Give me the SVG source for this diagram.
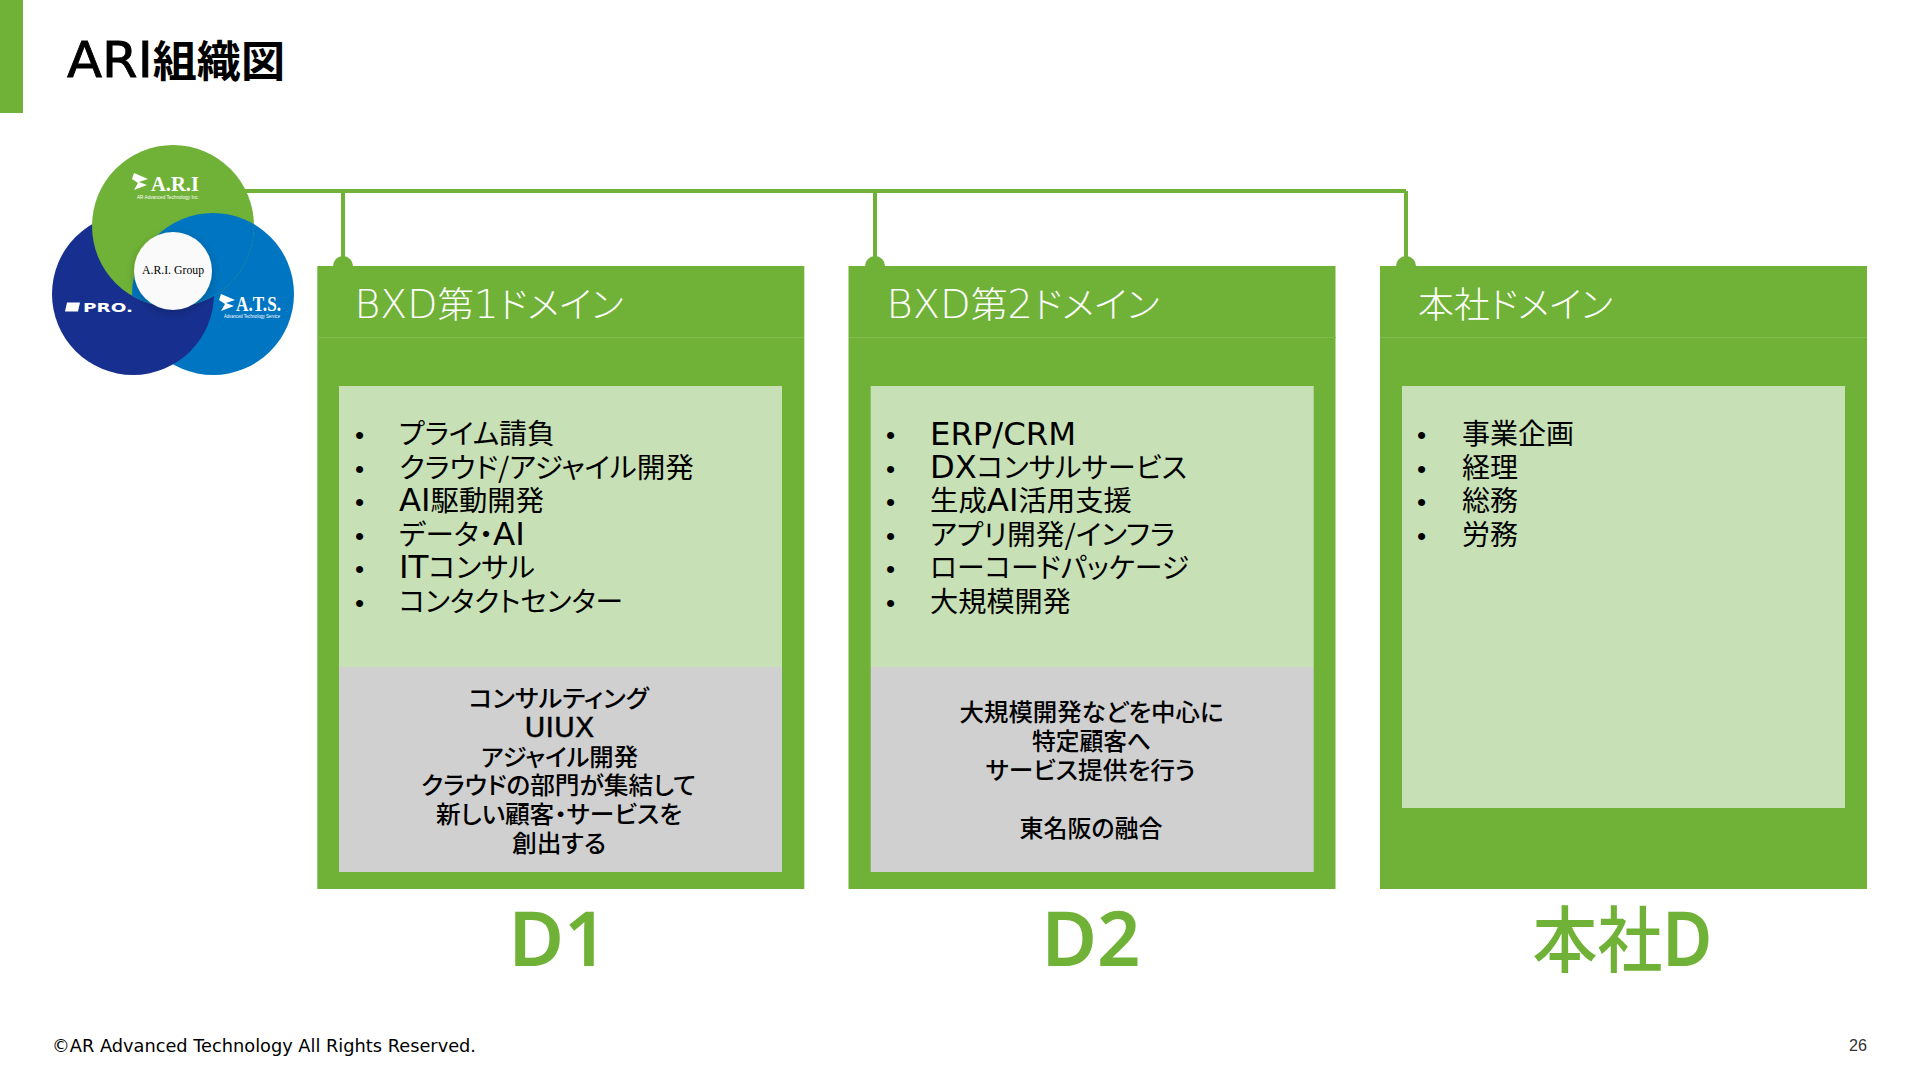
<svg xmlns="http://www.w3.org/2000/svg" width="1920" height="1080" viewBox="0 0 1920 1080">
<style>
text{font-family:"Noto Sans CJK JP",sans-serif;fill:#000;font-feature-settings:"palt"}
.l{font-family:"DejaVu Sans","Noto Sans CJK JP",sans-serif;font-size:1.14em}
.card{fill:#70B237}
.sep{stroke:#7FBB4D;stroke-width:1;fill:none}
.light{fill:#C8E0B6}
.gray{fill:#D0D0D0}
.head{font-size:36px;fill:#fff;font-weight:300}
.head .l{font-weight:200;font-size:39px}
.li{font-size:28px;font-weight:400}
.bu{font-size:26px;font-family:"Liberation Sans",sans-serif}
.note{font-size:24px;text-anchor:middle;font-weight:500}
.big{font-size:72px;fill:#70B237;text-anchor:middle;font-weight:500}
.big .b{font-family:"Noto Sans",sans-serif;font-size:76px;font-weight:600}
.conn{stroke:#70B237;stroke-width:4;fill:none}
.dot{fill:#70B237}
.wl{fill:#fff;font-family:"Liberation Serif",serif;font-weight:700}
.ws{fill:#fff;font-family:"Liberation Sans",sans-serif;font-size:5px}
</style>
<defs>
<clipPath id="cg"><circle cx="173" cy="226" r="81"/></clipPath>
<filter id="sh" x="-30%" y="-30%" width="160%" height="160%"><feDropShadow dx="0" dy="3" stdDeviation="5" flood-color="#000" flood-opacity="0.22"/></filter>
</defs>
<rect width="1920" height="1080" fill="#fff"/>
<rect x="0" y="0" width="23" height="113" fill="#70B237"/>
<text x="67" y="77" font-size="43" font-weight="700" textLength="218" lengthAdjust="spacingAndGlyphs"><tspan class="l" style="font-size:50px;font-weight:400;stroke:#000;stroke-width:0.8px">ARI</tspan>組織図</text>
<g id="connectors">
<path class="conn" d="M230 191H1406M343 191V266M875 191V266M1406 191V266"/>
<circle class="dot" cx="343" cy="266" r="10"/>
<circle class="dot" cx="875" cy="266" r="10"/>
<circle class="dot" cx="1406" cy="266" r="10"/>
</g>
<g id="logo">
<circle cx="213" cy="294" r="81" fill="#0075C1"/>
<circle cx="133" cy="294" r="81" fill="#17308F"/>
<circle cx="173" cy="226" r="81" fill="#70B237"/>
<circle cx="213" cy="294" r="81" fill="#0075C1" clip-path="url(#cg)"/>
<circle cx="173" cy="271" r="39" fill="#FAFAFA" filter="url(#sh)"/>
<text x="142" y="274" font-size="12" textLength="62" lengthAdjust="spacingAndGlyphs" style="font-family:'Liberation Serif',serif">A.R.I. Group</text>
<path d="M134 173l14 6-9 3 8 3-13 5 4-7-6-4z" fill="#fff"/>
<text class="wl" x="151" y="191" font-size="21" textLength="48" lengthAdjust="spacingAndGlyphs">A.R.I</text>
<text class="ws" x="137" y="199" textLength="62" lengthAdjust="spacingAndGlyphs">AR Advanced Technology Inc.</text>
<path d="M67 302.500h13l-2 9h-13z" fill="#fff"/>
<text x="83" y="311.500" font-size="13" font-weight="700" textLength="50" lengthAdjust="spacingAndGlyphs" style="fill:#fff;font-family:'DejaVu Sans',sans-serif">PRO.</text>
<path d="M221 294l14 6-9 3 8 3-13 5 4-7-6-4z" fill="#fff"/>
<text class="wl" x="236" y="311" font-size="20" textLength="45" lengthAdjust="spacingAndGlyphs">A.T.S.</text>
<text class="ws" x="224" y="318" textLength="56" lengthAdjust="spacingAndGlyphs">Advanced Technology Service</text>
</g>
<g id="card-d1">
<rect class="card" x="317.300" y="266" width="487" height="623"/>
<path class="sep" d="M317 337.500H804"/>
<text class="head" x="354.500" y="318" textLength="269" lengthAdjust="spacingAndGlyphs"><tspan class="l">BXD</tspan>第<tspan class="l">1</tspan>ドメイン</text>
<rect class="light" x="339" y="386" width="443" height="281"/>
<rect class="gray" x="339" y="667" width="443" height="205"/>
<text class="bu" x="355" y="444">•</text><text class="li" x="399" y="444" textLength="156" lengthAdjust="spacingAndGlyphs">プライム請負</text>
<text class="bu" x="355" y="478">•</text><text class="li" x="399" y="478" textLength="295" lengthAdjust="spacingAndGlyphs">クラウド/アジャイル開発</text>
<text class="bu" x="355" y="511">•</text><text class="li" x="399" y="511" textLength="145" lengthAdjust="spacingAndGlyphs"><tspan class="l">AI</tspan>駆動開発</text>
<text class="bu" x="355" y="545">•</text><text class="li" x="399" y="545" textLength="126" lengthAdjust="spacingAndGlyphs">データ・<tspan class="l">AI</tspan></text>
<text class="bu" x="355" y="578">•</text><text class="li" x="399" y="578" textLength="136" lengthAdjust="spacingAndGlyphs"><tspan class="l">IT</tspan>コンサル</text>
<text class="bu" x="355" y="612">•</text><text class="li" x="399" y="612" textLength="224" lengthAdjust="spacingAndGlyphs">コンタクトセンター</text>
<text class="note" x="558.500" y="707" textLength="180" lengthAdjust="spacingAndGlyphs">コンサルティング</text>
<text class="note" x="559.500" y="737" textLength="70" lengthAdjust="spacingAndGlyphs"><tspan class="l" style="font-weight:400;stroke:#000;stroke-width:0.4px">UIUX</tspan></text>
<text class="note" x="559.500" y="766" textLength="157" lengthAdjust="spacingAndGlyphs">アジャイル開発</text>
<text class="note" x="558.500" y="794" textLength="275" lengthAdjust="spacingAndGlyphs">クラウドの部門が集結して</text>
<text class="note" x="559" y="823" textLength="246" lengthAdjust="spacingAndGlyphs">新しい顧客・サービスを</text>
<text class="note" x="559" y="852" textLength="94" lengthAdjust="spacingAndGlyphs">創出する</text>
<text class="big" x="558" y="966"><tspan class="b">D1</tspan></text>
</g>
<g id="card-d2">
<rect class="card" x="848.500" y="266" width="487" height="623"/>
<path class="sep" d="M849 337.500H1336"/>
<text class="head" x="886.500" y="318" textLength="273" lengthAdjust="spacingAndGlyphs"><tspan class="l">BXD</tspan>第<tspan class="l">2</tspan>ドメイン</text>
<rect class="light" x="870.700" y="386" width="443" height="281"/>
<rect class="gray" x="870.700" y="667" width="443" height="205"/>
<text class="bu" x="886" y="444">•</text><text class="li" x="930" y="444.500" textLength="146" lengthAdjust="spacingAndGlyphs"><tspan class="l">ERP/CRM</tspan></text>
<text class="bu" x="886" y="478">•</text><text class="li" x="930" y="478" textLength="257" lengthAdjust="spacingAndGlyphs"><tspan class="l">DX</tspan>コンサルサービス</text>
<text class="bu" x="886" y="511">•</text><text class="li" x="930" y="511" textLength="202" lengthAdjust="spacingAndGlyphs">生成<tspan class="l">AI</tspan>活用支援</text>
<text class="bu" x="886" y="545">•</text><text class="li" x="930" y="545" textLength="245" lengthAdjust="spacingAndGlyphs">アプリ開発/インフラ</text>
<text class="bu" x="886" y="578">•</text><text class="li" x="930" y="578" textLength="259" lengthAdjust="spacingAndGlyphs">ローコードパッケージ</text>
<text class="bu" x="886" y="612">•</text><text class="li" x="930" y="612" textLength="141" lengthAdjust="spacingAndGlyphs">大規模開発</text>
<text class="note" x="1091.500" y="721" textLength="264" lengthAdjust="spacingAndGlyphs">大規模開発などを中心に</text>
<text class="note" x="1091.500" y="750" textLength="119" lengthAdjust="spacingAndGlyphs">特定顧客へ</text>
<text class="note" x="1090.500" y="779" textLength="210" lengthAdjust="spacingAndGlyphs">サービス提供を行う</text>
<text class="note" x="1091" y="837" textLength="143" lengthAdjust="spacingAndGlyphs">東名阪の融合</text>
<text class="big" x="1091" y="966"><tspan class="b">D2</tspan></text>
</g>
<g id="card-hq">
<rect class="card" x="1380" y="266" width="487" height="623"/>
<path class="sep" d="M1380 337.500H1867"/>
<text class="head" x="1418" y="318" textLength="195" lengthAdjust="spacingAndGlyphs">本社ドメイン</text>
<rect class="light" x="1402" y="386" width="443" height="422"/>
<text class="bu" x="1417" y="444">•</text><text class="li" x="1462" y="444">事業企画</text>
<text class="bu" x="1417" y="478">•</text><text class="li" x="1462" y="478">経理</text>
<text class="bu" x="1417" y="511">•</text><text class="li" x="1462" y="511">総務</text>
<text class="bu" x="1417" y="545">•</text><text class="li" x="1462" y="545">労務</text>
<text class="big" x="1622.500" y="966" textLength="180" lengthAdjust="spacingAndGlyphs">本社<tspan class="b">D</tspan></text>
</g>
<text x="52" y="1052" font-size="18" textLength="424" lengthAdjust="spacingAndGlyphs" style="font-family:'DejaVu Sans',sans-serif">©AR Advanced Technology All Rights Reserved.</text>
<text x="1849" y="1051" font-size="17" textLength="18" lengthAdjust="spacingAndGlyphs" style="font-family:'Liberation Sans',sans-serif;fill:#333">26</text>
</svg>
